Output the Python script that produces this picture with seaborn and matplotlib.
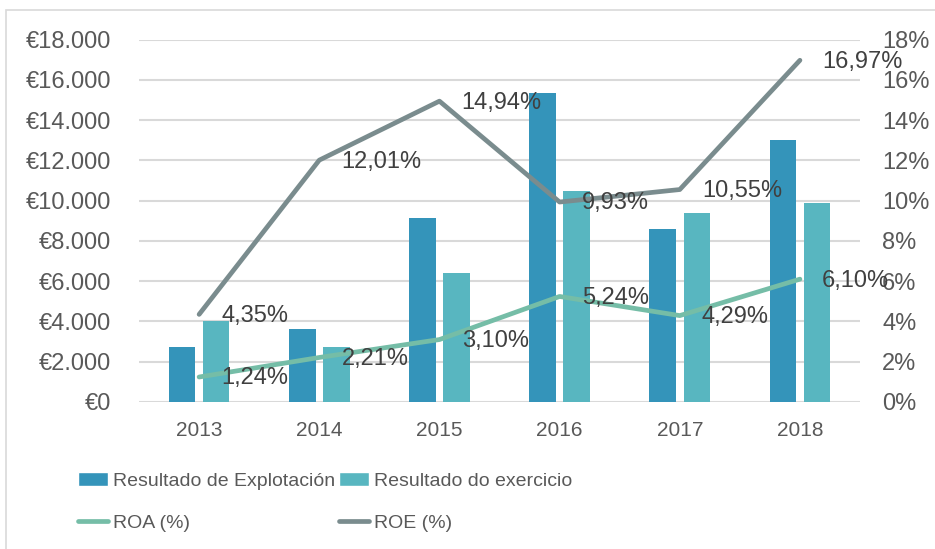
import matplotlib
matplotlib.use('Agg')
import numpy as np
import pandas as pd
import matplotlib.pyplot as plt
import seaborn as sns
from matplotlib.patches import Patch, Rectangle
from matplotlib.lines import Line2D
from matplotlib.ticker import FuncFormatter, MultipleLocator

years = ['2013', '2014', '2015', '2016', '2017', '2018']
explotacion = [2750, 3630, 9140, 15360, 8590, 13030]
exercicio = [4030, 2750, 6400, 10460, 9400, 9870]
roa = [1.24, 2.21, 3.10, 5.24, 4.29, 6.10]
roe = [4.35, 12.01, 14.94, 9.93, 10.55, 16.97]

barNames = ['Resultado de Explotación', 'Resultado do exercicio']
barColors = {'Resultado de Explotación': '#3494BA', 'Resultado do exercicio': '#58B6C0'}
roaColor = '#75BDA7'
roeColor = '#7A8C8E'
tickColor = '#595959'
labelColor = '#404040'
gridColor = '#D9D9D9'

sns.set_theme(style='white')
plt.rcParams['font.family'] = ['Liberation Sans', 'DejaVu Sans']

df = pd.DataFrame({
    'year': years * 2,
    'serie': [barNames[0]] * len(years) + [barNames[1]] * len(years),
    'valor': explotacion + exercicio,
})

fig = plt.figure(figsize=(9.35, 5.49), dpi=100)
fig.patch.set_facecolor('white')
# marco gris do gráfico (cortado á dereita e abaixo)
fig.add_artist(Rectangle((6 / 935, -0.1), 1.2, 1 - 10 / 549 + 0.1, transform=fig.transFigure,
                         fill=False, edgecolor=gridColor, linewidth=1.2))

ax = fig.add_axes([0.1487, 0.2678, 0.7711, 0.6602])
sns.barplot(data=df, x='year', y='valor', hue='serie', order=years, hue_order=barNames,
            palette=barColors, saturation=1, width=0.567, gap=0.22, linewidth=0,
            legend=False, ax=ax)
ax.set_xlim(-0.5, len(years) - 0.5)
ax.set_ylim(0, 18000)
ax.yaxis.set_major_locator(MultipleLocator(2000))
ax.yaxis.set_major_formatter(FuncFormatter(lambda v, _: '€' + f'{v:,.0f}'.replace(',', '.')))
ax.grid(axis='y', color=gridColor, linewidth=1.5)
ax.set_axisbelow(True)
for s in ax.spines.values():
    s.set_visible(False)
ax.set_xlabel('')
ax.set_ylabel('')
ax.tick_params(axis='y', length=0, pad=20, labelsize=17, labelcolor=tickColor)
ax.tick_params(axis='x', length=0, pad=14, labelsize=15, labelcolor=tickColor)

ax2 = ax.twinx()
pos = np.arange(len(years))
sns.lineplot(x=pos, y=roa, color=roaColor, linewidth=3.4, solid_capstyle='round', ax=ax2)
sns.lineplot(x=pos, y=roe, color=roeColor, linewidth=3.4, solid_capstyle='round', ax=ax2)
ax2.set_ylim(0, 18)
ax2.yaxis.set_major_locator(MultipleLocator(2))
ax2.yaxis.set_major_formatter(FuncFormatter(lambda v, _: f'{v:.0f}%'))
ax2.tick_params(axis='y', length=0, pad=16, labelsize=17, labelcolor=tickColor)
ax2.grid(False)
for s in ax2.spines.values():
    s.set_visible(False)
ax2.set_ylabel('')

for series in (roa, roe):
    for x, v in zip(pos, series):
        ax2.annotate(f'{v:.2f}%'.replace('.', ','), (x, v), xytext=(16, -1),
                     textcoords='offset points', ha='left', va='center',
                     fontsize=17, color=labelColor)

handles = [
    Patch(facecolor=barColors[barNames[0]], label=barNames[0]),
    Line2D([0], [0], color=roaColor, linewidth=3.4, solid_capstyle='round', label='ROA (%)'),
    Patch(facecolor=barColors[barNames[1]], label=barNames[1]),
    Line2D([0], [0], color=roeColor, linewidth=3.4, solid_capstyle='round', label='ROE (%)'),
]
fig.legend(handles=handles, loc='upper left', bbox_to_anchor=(78 / 935, 1 - 472 / 549),
           ncol=2, frameon=False, prop={'size': 14},
           labelcolor=tickColor, handlelength=1.55, handleheight=0.7,
           handletextpad=0.25, columnspacing=0.2, labelspacing=1.25, borderpad=0,
           borderaxespad=0)

fig.savefig('out.png', dpi=100, facecolor='white')
